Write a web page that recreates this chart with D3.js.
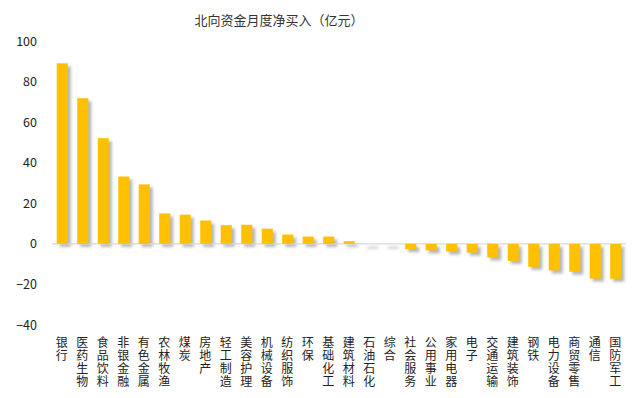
<!DOCTYPE html>
<html>
<head>
<meta charset="utf-8">
<script src="https://cdn.jsdelivr.net/npm/d3@7"></script>
<style>
  html, body { margin: 0; padding: 0; background: #fff; }
  svg { display: block; }
  text { font-family: "Noto Sans CJK SC", "Liberation Sans", sans-serif; }
</style>
</head>
<body>
<svg id="chart" width="632" height="398"></svg>
<script>
// 北向资金各行业月度净买入（亿元）
const categories = [
  "银行", "医药生物", "食品饮料", "非银金融", "有色金属", "农林牧渔", "煤炭",
  "房地产", "轻工制造", "美容护理", "机械设备", "纺织服饰", "环保", "基础化工",
  "建筑材料", "石油石化", "综合", "社会服务", "公用事业", "家用电器", "电子",
  "交通运输", "建筑装饰", "钢铁", "电力设备", "商贸零售", "通信", "国防军工"
];
const netBuy = [
  89.0, 71.8, 52.1, 33.2, 29.3, 15.0, 14.4,
  11.5, 9.2, 9.4, 7.5, 4.6, 3.6, 3.6,
  1.3, 0.0, 0.0, -2.6, -3.2, -3.8, -4.3,
  -6.7, -8.4, -11.3, -13.1, -13.7, -17.1, -17.2
];
const yTicks = [-40, -20, 0, 20, 40, 60, 80, 100];
const title = "北向资金月度净买入（亿元）";

const svg = d3.select("#chart");

const x = d3.scaleBand()
  .domain(categories)
  .range([52, 626])
  .paddingInner(0.46)
  .paddingOuter(0.23);

const y = d3.scaleLinear()
  .domain([-40, 100])
  .range([325, 41]);

// soft drop shadow under each bar
const defs = svg.append("defs");
defs.append("filter")
  .attr("id", "shadowBlur")
  .attr("x", "-50%").attr("y", "-50%")
  .attr("width", "200%").attr("height", "200%")
  .append("feGaussianBlur")
  .attr("stdDeviation", 1.4);

// title
svg.append("text")
  .attr("x", 279)
  .attr("y", 21)
  .attr("text-anchor", "middle")
  .attr("dominant-baseline", "middle")
  .attr("font-size", 13)
  .attr("fill", "#333")
  .text(title);

// y tick labels (no axis line, no tick marks)
const yAxis = d3.axisLeft(y).tickValues(yTicks).tickSize(0).tickPadding(0);
const yg = svg.append("g")
  .attr("transform", "translate(37,0)")
  .call(yAxis);
yg.select(".domain").remove();
yg.selectAll("text")
  .attr("font-family", "\"Liberation Sans\", Arial, sans-serif")
  .attr("font-size", 12.5)
  .attr("fill", "#222");

// shadows
const offset = 3;
svg.append("g")
  .attr("filter", "url(#shadowBlur)")
  .selectAll("rect")
  .data(categories)
  .join("rect")
  .attr("x", (d) => x(d) + offset)
  .attr("y", (d, i) => Math.min(y(netBuy[i]), y(0)) + offset)
  .attr("width", x.bandwidth())
  .attr("height", (d, i) => Math.max(Math.abs(y(netBuy[i]) - y(0)), 1.5))
  .attr("fill", "#7a7a7a")
  .attr("opacity", 0.55);

// zero line
svg.append("line")
  .attr("x1", x.range()[0])
  .attr("x2", x.range()[1])
  .attr("y1", y(0))
  .attr("y2", y(0))
  .attr("stroke", "#d9d9d9")
  .attr("stroke-width", 1.2);

// bars
svg.append("g")
  .selectAll("rect")
  .data(categories)
  .join("rect")
  .attr("x", (d) => x(d))
  .attr("y", (d, i) => Math.min(y(netBuy[i]), y(0)))
  .attr("width", x.bandwidth())
  .attr("height", (d, i) => Math.abs(y(netBuy[i]) - y(0)))
  .attr("fill", "#FFC000");

// vertical category labels, characters stacked top to bottom
svg.append("g")
  .selectAll("text")
  .data(categories)
  .join("text")
  .attr("x", (d) => x(d) + x.bandwidth() / 2 - 0.5)
  .attr("y", 336)
  .attr("font-size", 12)
  .attr("fill", "#222")
  .style("writing-mode", "vertical-rl")
  .style("text-orientation", "upright")
  .style("letter-spacing", "1px")
  .text((d) => d);
</script>
</body>
</html>
